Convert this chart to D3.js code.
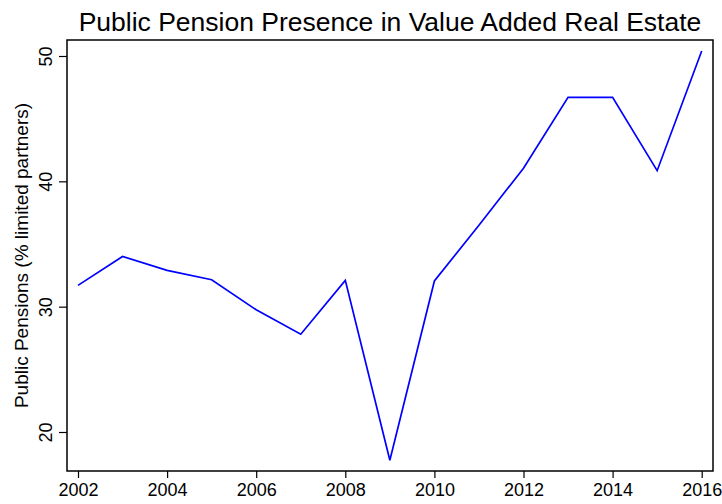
<!DOCTYPE html>
<html>
<head>
<meta charset="utf-8">
<script src="https://cdn.jsdelivr.net/npm/d3@7"></script>
<style>
  body { margin: 0; background: #fff; }
  svg { display: block; font-family: Arial, "Liberation Sans", sans-serif; }
</style>
</head>
<body>
<svg id="chart" width="722" height="504"></svg>
<script>
// data
const years = [2002, 2003, 2004, 2005, 2006, 2007, 2008, 2009, 2010, 2011, 2012, 2013, 2014, 2015, 2016];
const pensionShare = [31.7, 34.0, 32.9, 32.15, 29.75, 27.8, 32.1, 17.75, 32.05, 36.5, 41.05, 46.7, 46.7, 40.85, 50.4];
const xTicks = [2002, 2004, 2006, 2008, 2010, 2012, 2014, 2016];
const yTicks = [20, 30, 40, 50];

const svg = d3.select('#chart');
const box = { left: 67, top: 40, right: 713, bottom: 471 };

const x = d3.scaleLinear().domain([2002, 2016]).range([78, 701.7]);
const y = d3.scaleLinear().domain([20, 50]).range([432, 56]);

// title
svg.append('text')
  .attr('x', (box.left + box.right) / 2)
  .attr('y', 31)
  .attr('text-anchor', 'middle')
  .style('font-size', '26.5px')
  .text('Public Pension Presence in Value Added Real Estate');

// x axis
const xAxis = svg.append('g')
  .attr('transform', `translate(0,${box.bottom})`)
  .call(d3.axisBottom(x).tickValues(xTicks).tickFormat(d3.format('d')).tickSize(7).tickPadding(5));
xAxis.select('.domain').remove();
xAxis.selectAll('line').attr('stroke', '#000').attr('stroke-width', 1.2);
xAxis.selectAll('text').style('font-size', '18px').attr('fill', '#000');

// y axis, labels rotated like the original
const yAxis = svg.append('g')
  .attr('transform', `translate(${box.left},0)`)
  .call(d3.axisLeft(y).tickValues(yTicks).tickSize(8));
yAxis.select('.domain').remove();
yAxis.selectAll('line').attr('stroke', '#000').attr('stroke-width', 1.2);
yAxis.selectAll('text')
  .style('font-size', '18px')
  .attr('fill', '#000')
  .attr('x', null).attr('dy', null)
  .attr('text-anchor', 'middle')
  .attr('transform', 'translate(-15,0) rotate(-90)');

// y axis title
svg.append('text')
  .attr('transform', `translate(28,${(box.top + box.bottom) / 2}) rotate(-90)`)
  .attr('text-anchor', 'middle')
  .style('font-size', '19px')
  .text('Public Pensions (% limited partners)');

// plot frame
svg.append('rect')
  .attr('x', box.left)
  .attr('y', box.top)
  .attr('width', box.right - box.left)
  .attr('height', box.bottom - box.top)
  .attr('fill', 'none')
  .attr('stroke', '#000')
  .attr('stroke-width', 1.5);

// the series
const line = d3.line()
  .x((d, i) => x(years[i]))
  .y(d => y(d));

svg.append('path')
  .datum(pensionShare)
  .attr('fill', 'none')
  .attr('stroke', '#0000ff')
  .attr('stroke-width', 1.7)
  .attr('d', line);
</script>
</body>
</html>
